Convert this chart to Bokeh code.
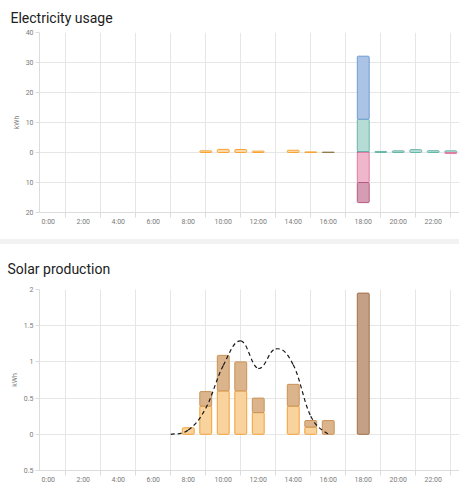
import numpy as np
from bokeh.plotting import figure
from bokeh.models import FixedTicker, Range1d, Spacer
from bokeh.layouts import column
from bokeh.embed import file_html
from bokeh.resources import INLINE

# ---------------- data ----------------
label_hours = [0, 2, 4, 6, 8, 10, 12, 14, 16, 18, 20, 22]
label_texts = ["0:00", "2:00", "4:00", "6:00", "8:00", "10:00",
               "12:00", "14:00", "16:00", "18:00", "20:00", "22:00"]
grid_hours = [1, 3, 5, 7, 9, 11, 13, 15, 17, 19, 21, 23]

# Electricity usage (kWh)
use_ticks = [-20, -10, 0, 10, 20, 30, 40]
use_tick_labels = ["20", "10", "0", "10", "20", "30", "40"]
use_solar_hours = [9, 10, 11, 12, 14, 15]
use_solar = [0.55, 1.05, 1.0, 0.45, 0.75, 0.2]
use_solar2_hours = [16]
use_solar2 = [0.12]
use_grid_hours = [18]
use_grid = [0.3]
use_battery_hours = [18, 19, 20, 21, 22, 23]
use_battery = [10.8, 0.35, 0.55, 0.95, 0.6, 0.55]
use_import_hours = [18]
use_import = [21.0]
use_charge_hours = [18, 23]
use_charge = [-10.0, -0.35]
use_export_hours = [18]
use_export = [-6.7]

# Solar production (kWh)
prod_ticks = [-0.5, 0, 0.5, 1, 1.5, 2]
prod_tick_labels = ["0.5", "0", "0.5", "1", "1.5", "2"]
prod_hours = [8, 9, 10, 11, 12, 14, 15, 16, 18]
prod_a = [0.09, 0.39, 0.6, 0.6, 0.3, 0.39, 0.1, 0.0, 0.0]
prod_b = [0.0, 0.2, 0.49, 0.4, 0.2, 0.3, 0.09, 0.19, 0.0]
prod_c = [0.0, 0.0, 0.0, 0.0, 0.0, 0.0, 0.0, 0.0, 1.95]
forecast_hours = [7, 8, 9, 10, 11, 12, 13, 14, 15, 16]
forecast = [0.0, 0.06, 0.36, 0.95, 1.29, 0.91, 1.18, 0.96, 0.25, 0.0]

# ---------------- styling ----------------
FONT = "Roboto"
TXT = "#7a7a7a"
GRID = "#e6e6e6"
AXIS = "#dcdcdc"
BAR_W = 0.68
W = 459


def make_fig(title, height, yr, yticks, ylabels, left, top, bottom, standoff):
    p = figure(width=W, height=height, x_range=Range1d(-0.5, 23.5),
               y_range=Range1d(*yr), output_backend="svg",
               toolbar_location=None, tools="",
               min_border_left=left, min_border_right=0,
               min_border_top=top, min_border_bottom=bottom)
    p.outline_line_color = None
    p.title.text = title
    p.title.text_font = FONT
    p.title.text_font_size = "14px"
    p.title.text_font_style = "normal"
    p.title.text_color = "#212121"
    p.title.align = "left"
    p.title.offset = -(left - 7)
    p.title.standoff = standoff

    ax = p.xaxis[0]
    ax.ticker = FixedTicker(ticks=label_hours, minor_ticks=grid_hours)
    ax.major_label_overrides = {h: t for h, t in zip(label_hours, label_texts)}
    ax.major_tick_line_color = None
    ax.major_tick_out = 0
    ax.major_tick_in = 0
    ax.minor_tick_line_color = AXIS
    ax.minor_tick_out = 5
    ax.minor_tick_in = 0
    ax.axis_line_color = AXIS
    ax.major_label_standoff = 0
    ax.major_label_text_font = FONT
    ax.major_label_text_font_size = "7px"
    ax.major_label_text_color = TXT

    ya = p.yaxis[0]
    ya.ticker = FixedTicker(ticks=yticks)
    ya.major_label_overrides = {v: t for v, t in zip(yticks, ylabels)}
    ya.axis_label = "kWh"
    ya.axis_label_text_font = FONT
    ya.axis_label_text_font_size = "7px"
    ya.axis_label_text_font_style = "normal"
    ya.axis_label_text_color = TXT
    ya.axis_label_standoff = 2
    ya.major_label_text_font = FONT
    ya.major_label_text_font_size = "7px"
    ya.major_label_text_color = TXT
    ya.major_label_standoff = 2
    ya.major_tick_out = 4
    ya.major_tick_in = 0
    ya.major_tick_line_color = AXIS
    ya.minor_tick_line_color = None
    ya.axis_line_color = AXIS

    p.xgrid.ticker = FixedTicker(ticks=grid_hours)
    p.ygrid.ticker = FixedTicker(ticks=yticks)
    p.xgrid.grid_line_color = GRID
    p.ygrid.grid_line_color = GRID
    return p


def bars(p, hours, bottom, top, fill, line):
    p.vbar(x=hours, width=BAR_W, bottom=bottom, top=top,
           fill_color=fill, line_color=line, line_width=1, border_radius=1)


# ---------------- Electricity usage ----------------
p1 = make_fig("Electricity usage", 239, (-20, 40), use_ticks, use_tick_labels,
              left=36, top=32, bottom=27, standoff=13)

bars(p1, use_solar_hours, 0, use_solar, "#fcd9a6", "#f5a435")
bars(p1, use_solar2_hours, 0, use_solar2, "#c9b48a", "#8f7d4f")

g = np.array(use_grid)
bars(p1, use_grid_hours, 0, g, "#1f3a93", "#1f3a93")
bat = np.array(use_battery)
bat_base = np.array([g[use_grid_hours.index(h)] if h in use_grid_hours else 0.0
                     for h in use_battery_hours])
bars(p1, use_battery_hours, bat_base, bat_base + bat, "#b5ddd6", "#68b5a9")
imp = np.array(use_import)
imp_base = np.array([bat_base[use_battery_hours.index(h)] + bat[use_battery_hours.index(h)]
                     for h in use_import_hours])
bars(p1, use_import_hours, imp_base, imp_base + imp, "#abc4e6", "#6f9bd3")

ch = np.array(use_charge)
bars(p1, use_charge_hours, 0, ch, "#efb6cc", "#df7ca2")
ex = np.array(use_export)
ex_base = np.array([ch[use_charge_hours.index(h)] for h in use_export_hours])
bars(p1, use_export_hours, ex_base, ex_base + ex, "#d59db3", "#b65a80")

# ---------------- Solar production ----------------
p2 = make_fig("Solar production", 256, (-0.5, 2), prod_ticks, prod_tick_labels,
              left=39, top=45, bottom=30, standoff=25)

ph = np.array(prod_hours)
a = np.array(prod_a)
b = np.array(prod_b)
c = np.array(prod_c)
ma = a > 0
bars(p2, ph[ma], 0, a[ma], "#f9d39d", "#f2a23a")
mb = b > 0
bars(p2, ph[mb], a[mb], a[mb] + b[mb], "#dcb48b", "#c99257")
mc = c > 0
bars(p2, ph[mc], (a + b)[mc], (a + b + c)[mc], "#c4a086", "#a56f49")

# smoothed forecast line (cubic Bezier segments through the forecast points)
fx = np.array(forecast_hours, dtype=float)
fy = np.array(forecast, dtype=float)
n = len(fx)
ip = np.r_[0, np.arange(n - 1)]
inx = np.r_[np.arange(1, n), n - 1]
t = 0.2
dx = fx[inx] - fx[ip]
dy = fy[inx] - fy[ip]
p2.bezier(x0=fx[:-1], y0=fy[:-1], x1=fx[1:], y1=fy[1:],
          cx0=(fx + t * dx)[:-1], cy0=(fy + t * dy)[:-1],
          cx1=(fx - t * dx)[1:], cy1=(fy - t * dy)[1:],
          line_color="#1a1a1a", line_width=1.2, line_dash="4 3")

gap = Spacer(width=W, height=5, styles={"background-color": "#f2f2f2"})
layout = column(p1, gap, p2, spacing=0)

open("out.html", "w").write(file_html(layout, INLINE))
